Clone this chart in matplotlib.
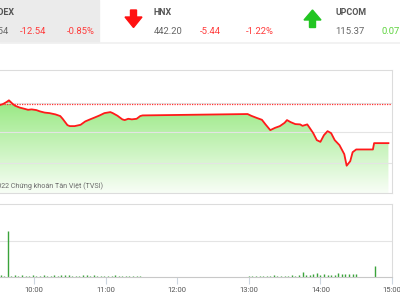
import numpy as np
import matplotlib
matplotlib.use('Agg')
import matplotlib.pyplot as plt
from matplotlib.patches import Polygon, Rectangle

plt.rcParams['font.family'] = ['Roboto', 'DejaVu Sans']

# header quotes
idx_names = ['VNINDEX', 'HNX', 'UPCOM']
idx_values = ['1,462.54', '442.20', '115.37']
idx_changes = ['-12.54', '-5.44', '0.07']
idx_pcts = ['-0.85%', '-1.22%', '+0.06%']

# HNX intraday
ref_price = 447.64
price_times = ['09:30', '09:34', '09:37', '09:39', '09:42', '09:44', '09:48', '09:52', '09:55', '09:58',
               '10:02', '10:05', '10:09', '10:13', '10:18', '10:22', '10:24', '10:28', '10:30', '10:34',
               '10:39', '10:43', '10:47', '10:51', '10:55', '10:59', '11:04', '11:06', '11:10', '11:14',
               '11:16', '11:19', '11:22', '11:26', '11:29', '11:31', '12:59', '13:02', '13:07', '13:11',
               '13:14', '13:18', '13:22', '13:26', '13:30', '13:32', '13:35', '13:39', '13:43', '13:45',
               '13:49', '13:51', '13:54', '13:57', '14:00', '14:03', '14:06', '14:09', '14:12', '14:16',
               '14:20', '14:22', '14:25', '14:27', '14:30', '14:44', '14:45', '14:57']
price_values = [447.43, 447.64, 447.92, 448.16, 447.68, 447.42, 447.15, 446.98, 446.84, 446.90,
                446.80, 446.62, 446.45, 446.38, 446.20, 445.97, 445.59, 444.71, 444.57, 444.57,
                444.75, 445.23, 445.51, 445.78, 446.06, 446.38, 446.52, 446.38, 446.01, 445.51,
                445.41, 445.59, 445.51, 445.59, 445.97, 446.06, 446.25, 446.01, 445.69, 445.45,
                444.81, 444.01, 444.33, 444.57, 445.03, 445.41, 445.13, 444.85, 444.81, 444.61,
                444.81, 444.33, 443.59, 442.62, 442.38, 443.32, 443.87, 443.59, 442.62, 441.92,
                440.67, 439.06, 439.69, 440.94, 441.32, 441.32, 442.20, 442.20]

# volume bars
vol_times = ['09:32', '09:35', '09:38', '09:41', '09:44', '09:47', '09:50', '09:53', '09:56', '09:59',
             '10:02', '10:05', '10:08', '10:11', '10:14', '10:17', '10:20', '10:23', '10:26', '10:29',
             '10:32', '10:35', '10:38', '10:41', '10:44', '10:47', '10:50', '10:53', '10:56', '10:59',
             '11:02', '11:05', '11:08', '11:11', '11:14', '11:17', '11:20', '11:23', '11:26', '11:29',
             '13:00', '13:03', '13:06', '13:09', '13:12', '13:15', '13:18', '13:21', '13:24', '13:27',
             '13:30', '13:33', '13:36', '13:39', '13:42', '13:45', '13:48', '13:51', '13:54', '13:57',
             '14:00', '14:03', '14:06', '14:09', '14:12', '14:15', '14:18', '14:21', '14:24', '14:27',
             '14:30', '14:46']
vol_values = [50, 35, 1280, 30, 45, 25, 55, 35, 30, 50,
              40, 30, 50, 30, 35, 60, 30, 45, 50, 55,
              35, 40, 30, 60, 50, 35, 45, 30, 30, 40,
              35, 30, 45, 30, 35, 25, 35, 30, 30, 25,
              30, 25, 35, 30, 40, 25, 30, 45, 30, 35,
              30, 40, 50, 35, 45, 130, 50, 55, 70, 100,
              50, 75, 55, 65, 60, 120, 70, 80, 85, 75,
              90, 305]


def to_min(s):
    h, m = s.split(':')
    return int(h) * 60 + int(m)


pt = np.array([to_min(s) for s in price_times])
pv = np.array(price_values)
vt = np.array([to_min(s) for s in vol_times])
vv = np.array(vol_values)

fig = plt.figure(figsize=(4, 3), dpi=100)
fig.patch.set_facecolor('white')

xmin, xmax = 540, 900
left = -37.6 / 400
width = (392 + 37.6) / 400
grid_c = '#e4e4e4'
border_c = '#dcdcdc'

# price panel
ax = fig.add_axes([left, (300 - 193) / 300, width, (193 - 70) / 300])
ax.set_xlim(xmin, xmax)
ax.set_ylim(435.26, 452.38)
ax.set_yticks([439.4, 443.7, 447.8])
ax.set_xticks([])
ax.grid(axis='y', color=grid_c, linewidth=0.8)
ax.tick_params(left=False, labelleft=False)
for s in ax.spines.values():
    s.set_color(border_c)
    s.set_linewidth(0.8)

fill = ax.fill_between(pt, pv, 435.26, color='none', linewidth=0)
grad = np.linspace(0, 1, 256).reshape(-1, 1)
top_c = np.array([150, 232, 128]) / 255
bot_c = np.array([248, 254, 246]) / 255
img = top_c + (bot_c - top_c) * grad
img = img.reshape(256, 1, 3)
im = ax.imshow(img, extent=[xmin, xmax, 435.26, 448.3], aspect='auto', origin='upper', zorder=1)
im.set_clip_path(fill.get_paths()[0], transform=ax.transData)
ax.axhline(ref_price, color='#ff3030', linewidth=0.9, linestyle=(0, (1, 1)), zorder=2)
ax.plot(pt, pv, color='#ff1a1a', linewidth=1.3, zorder=3)

# volume panel
axv = fig.add_axes([left, (300 - 277) / 300, width, (277 - 204) / 300])
axv.set_xlim(xmin, xmax)
axv.set_ylim(0, 2030)
axv.set_yticks([1000])
axv.grid(axis='y', color=grid_c, linewidth=0.8)
axv.vlines(vt, 0, vv, color='#3aa33a', linewidth=1.0)
axv.set_xticks([600, 660, 720, 780, 840, 900])
axv.set_xticklabels(['10:00', '11:00', '12:00', '13:00', '14:00', '15:00'])
axv.tick_params(axis='x', length=5, color='#ccd6e0', labelsize=5.5, labelcolor='#555555', pad=2)
axv.tick_params(left=False, labelleft=False)
for s in axv.spines.values():
    s.set_color(border_c)
    s.set_linewidth(0.8)
axv.spines['bottom'].set_color('#c8c8c8')

# overlay in pixel coordinates for header
ov = fig.add_axes([0, 0, 1, 1], zorder=10)
ov.set_xlim(0, 400)
ov.set_ylim(300, 0)
ov.axis('off')
ov.patch.set_alpha(0)

ov.add_patch(Rectangle((0, 0), 99, 41.5, color='#ebebeb', zorder=0))
ov.plot([0, 400], [42.5, 42.5], color='#f0f0f0', linewidth=1.2)

red = '#ff3b3b'
green = '#5fd43f'
gray = '#666666'
name_kw = dict(fontsize=6.4, fontweight='bold', color='#555555', va='center')
val_kw = dict(fontsize=6.8, va='center')

ov.text(14.5, 12.5, idx_names[0], ha='right', **name_kw)
ov.text(8.5, 31, idx_values[0], ha='right', color=gray, **val_kw)
ov.text(20, 31, idx_changes[0], ha='left', color=red, **val_kw)
ov.text(67, 31, idx_pcts[0], ha='left', color=red, **val_kw)

ov.text(154, 12.5, idx_names[1], ha='left', **name_kw)
ov.text(154, 31, idx_values[1], ha='left', color=gray, **val_kw)
ov.text(200, 31, idx_changes[1], ha='left', color=red, **val_kw)
ov.text(246, 31, idx_pcts[1], ha='left', color=red, **val_kw)

ov.text(335, 12.5, idx_names[2], ha='left', **name_kw)
ov.text(335, 31, idx_values[2], ha='left', color=gray, **val_kw)
ov.text(382, 31, idx_changes[2], ha='left', color=green, **val_kw)

# arrows
down = [(130.5, 10), (136.5, 10), (136.5, 17), (142, 17), (133.5, 27.5), (125, 17), (130.5, 17)]
ov.add_patch(Polygon(down, closed=True, color='#ff1010'))
up = [(309.5, 27.5), (315.5, 27.5), (315.5, 20), (321, 20), (312.5, 10), (304, 20), (309.5, 20)]
ov.add_patch(Polygon(up, closed=True, color='#22c522'))

ov.text(103, 186, '\u00a9 2022 Ch\u1ee9ng kho\u00e1n T\u00e2n Vi\u1ec7t (TVSI)', ha='right', va='center',
        fontsize=5.15, color='#6a6a6a')

fig.savefig('out.png', dpi=100)
